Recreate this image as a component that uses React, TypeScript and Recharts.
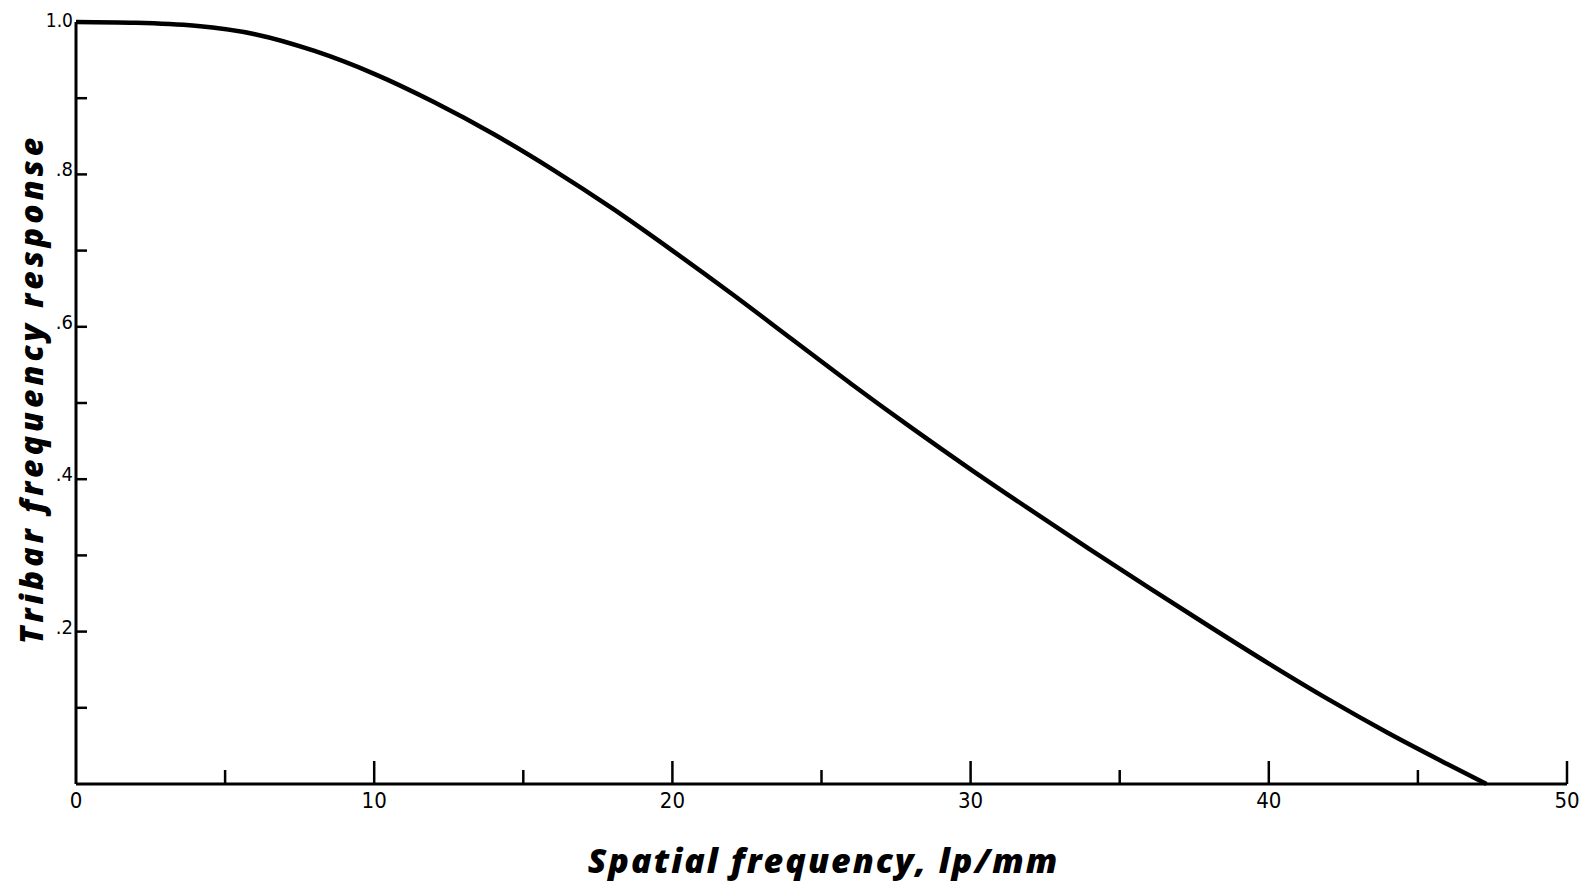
import * as React from 'react';
import { Line, LineChart, XAxis, YAxis } from 'recharts';

// values
const frequency = [0, 2, 4, 6, 8, 10, 12, 14, 16, 18, 20, 22, 24, 26, 28, 30, 32, 34, 36, 38, 40, 42, 44, 46, 47.3];
const response = [
  1.0, 0.999, 0.995, 0.984, 0.962, 0.932, 0.895, 0.853, 0.806, 0.755, 0.7, 0.643, 0.584, 0.525, 0.468, 0.413,
  0.36, 0.308, 0.257, 0.207, 0.158, 0.111, 0.067, 0.026, 0,
];

const xTicks = [0, 5, 10, 15, 20, 25, 30, 35, 40, 45, 50];
const xTickLabels = ['0', '', '10', '', '20', '', '30', '', '40', '', '50'];
const yTicks = [0.1, 0.2, 0.3, 0.4, 0.5, 0.6, 0.7, 0.8, 0.9, 1.0];
const yTickLabels = ['', '.2', '', '.4', '', '.6', '', '.8', '', '1.0'];

const xTitle = 'Spatial frequency, lp/mm';
const yTitle = 'Tribar frequency response';

const data = frequency.map((f, i) => ({ f, r: response[i] }));

const TICK_FONT = '"Liberation Sans Narrow", "DejaVu Sans Condensed", "Liberation Sans", sans-serif';
const TITLE_FONT = '"Open Sans", "DejaVu Sans", sans-serif';

const XTick = (props: any) => {
  const { x, y, payload, index } = props;
  const major = payload.value % 10 === 0;
  const label = xTickLabels[index];
  return (
    <g>
      {payload.value > 0 && (
        <line x1={x} x2={x} y1={y} y2={y - (major ? 23 : 14)} stroke="#000" strokeWidth={2.5} />
      )}
      {label && (
        <text x={x} y={y + 24} textAnchor="middle" fontSize={22} fontFamily={TICK_FONT} fill="#000">
          {label}
        </text>
      )}
    </g>
  );
};

const YTick = (props: any) => {
  const { x, y, index } = props;
  const label = yTickLabels[index];
  const top = index === yTicks.length - 1;
  return (
    <g>
      {!top && <line x1={x} x2={x + 11} y1={y} y2={y} stroke="#000" strokeWidth={2.5} />}
      {label && (
        <text
          x={x - 3}
          y={y + (top ? 5 : 2)}
          textAnchor="end"
          fontSize={top ? 19 : 20}
          fontFamily={TICK_FONT}
          fill="#000"
        >
          {label}
        </text>
      )}
    </g>
  );
};

export default function App() {
  return (
    <div style={{ width: 1580, height: 874, background: '#fff' }}>
      <LineChart width={1580} height={874} data={data} margin={{ top: 14, right: 21, left: 8, bottom: 38 }}>
        <XAxis
          dataKey="f"
          type="number"
          domain={[0, 50]}
          ticks={xTicks}
          interval={0}
          tickSize={0}
          tickMargin={0}
          tickLine={false}
          tick={<XTick />}
          height={60}
          axisLine={{ stroke: '#000', strokeWidth: 3 }}
          label={{
            content: (p: any) => {
              const vb = p.viewBox;
              return (
                <text
                  x={vb.x + vb.width / 2 + 2}
                  y={vb.y + 89}
                  textAnchor="middle"
                  fontSize={34}
                  fontWeight={800}
                  fontStyle="italic"
                  letterSpacing={2}
                  fontFamily={TITLE_FONT}
                  fill="#000"
                >
                  {xTitle}
                </text>
              );
            },
          }}
        />
        <YAxis
          type="number"
          domain={[0, 1]}
          ticks={yTicks}
          interval={0}
          tickSize={0}
          tickMargin={0}
          tickLine={false}
          tick={<YTick />}
          width={60}
          axisLine={{ stroke: '#000', strokeWidth: 3 }}
          label={{
            content: () => (
              <text
                x={35}
                y={381}
                transform="rotate(-90 35 381)"
                textAnchor="middle"
                fontSize={32}
                fontWeight={800}
                fontStyle="italic"
                letterSpacing={4}
                fontFamily={TITLE_FONT}
                fill="#000"
              >
                {yTitle}
              </text>
            ),
          }}
        />
        <Line
          type="monotone"
          dataKey="r"
          stroke="#000"
          strokeWidth={4.5}
          dot={false}
          isAnimationActive={false}
        />
      </LineChart>
    </div>
  );
}
